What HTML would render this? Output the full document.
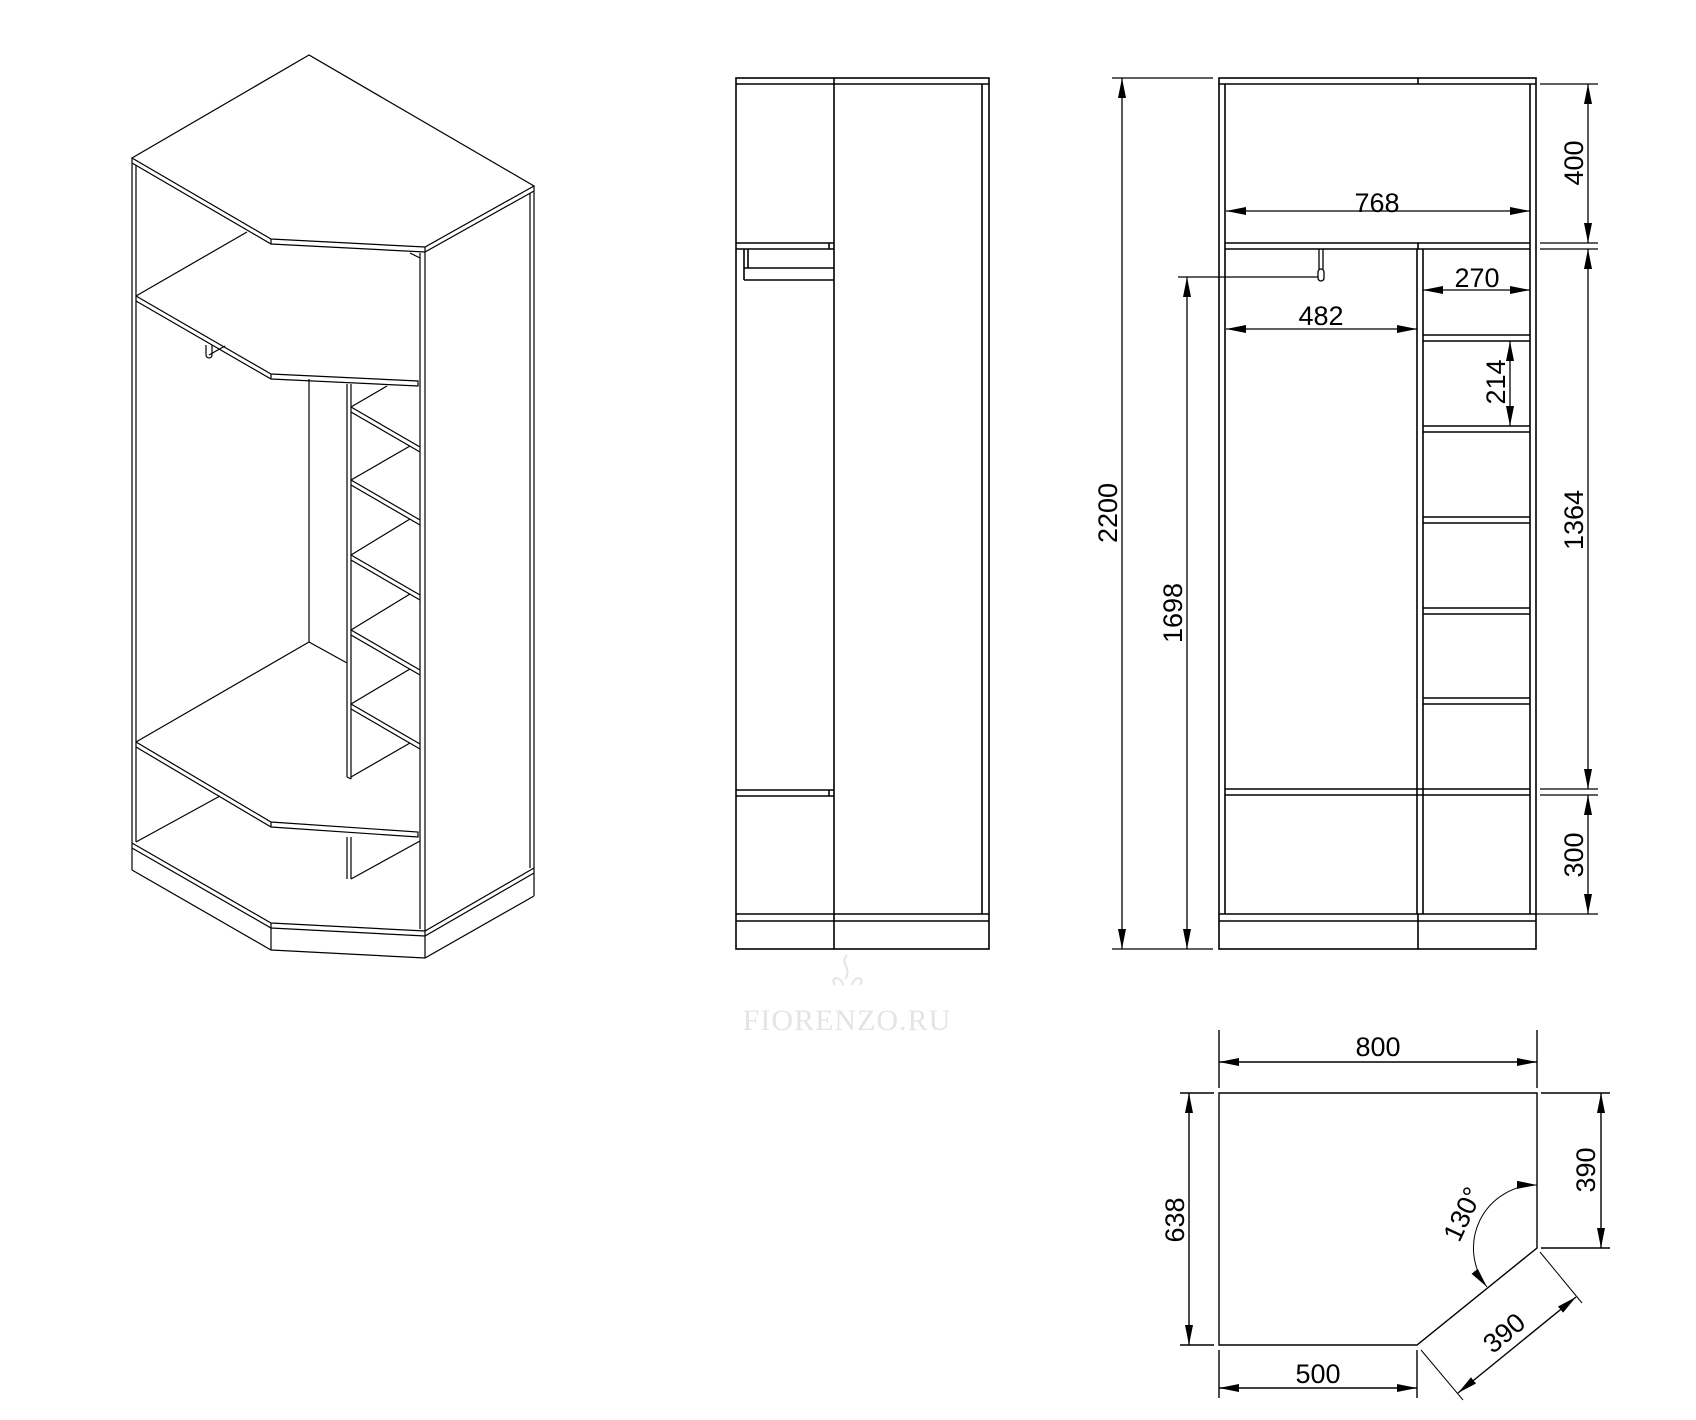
<!DOCTYPE html>
<html><head><meta charset="utf-8"><style>
html,body{margin:0;padding:0;background:#fff;}
svg{display:block;}
text{font-family:"Liberation Sans",sans-serif;font-size:27px;fill:#000;}
</style></head><body>
<svg width="1696" height="1420" viewBox="0 0 1696 1420" xmlns="http://www.w3.org/2000/svg">
<defs>
<marker id="a" viewBox="0 0 20 8" refX="20" refY="4" markerWidth="20" markerHeight="8" markerUnits="userSpaceOnUse" orient="auto-start-reverse">
<path d="M0,0 L20,4 L0,8 z" fill="#000"/></marker>
</defs>

<!-- ISOMETRIC -->
<g stroke="#000" stroke-width="1.2" fill="none">
<polygon points="309,55 132,158 271,239 425,247 534,186" fill="#fff"/>
<polyline points="132,158 132,870"/>
<polyline points="136,165 136,842"/>
<polyline points="132,163 271,244 425,252 534,191"/>
<line x1="271" y1="239" x2="271" y2="244"/>
<line x1="425" y1="247" x2="425" y2="958"/>
<line x1="420" y1="253" x2="420" y2="929"/>
<line x1="410" y1="253" x2="420" y2="258"/>
<line x1="534" y1="186" x2="534" y2="896"/>
<line x1="530" y1="193" x2="530" y2="868"/>
<!-- shelf 1 -->
<line x1="136" y1="296" x2="247" y2="232"/>
<polyline points="136,296 271,374 418,381 418,386 271,379 136,301"/>
<line x1="271" y1="374" x2="271" y2="379"/>
<!-- hanger -->
<path d="M206,345 v10 a3,3 0 0 0 6,0 v-10 M209,355 L225,346"/>
<!-- partition -->
<line x1="309" y1="379" x2="309" y2="642"/>
<line x1="347" y1="384" x2="347" y2="777"/>
<line x1="351" y1="384" x2="351" y2="779"/>
<line x1="347" y1="777" x2="351" y2="779"/>
<line x1="351" y1="407" x2="387" y2="386"/>
<g id="sh">
<polyline points="351,407 420,447"/><polyline points="351,412 420,452"/>
</g>
<polyline points="351,480 420,520"/><polyline points="351,485 420,525"/><line x1="351" y1="480" x2="410" y2="446"/>
<polyline points="351,555 420,595"/><polyline points="351,560 420,600"/><line x1="351" y1="555" x2="410" y2="519"/>
<polyline points="351,630 420,670"/><polyline points="351,635 420,675"/><line x1="351" y1="630" x2="410" y2="594"/>
<polyline points="351,704 420,744"/><polyline points="351,709 420,749"/><line x1="351" y1="704" x2="410" y2="669"/>
<line x1="351" y1="777" x2="410" y2="743"/>
<!-- bottom shelf -->
<line x1="136" y1="742" x2="309" y2="642"/>
<line x1="309" y1="642" x2="347" y2="663"/>
<polyline points="136,742 271,822 418,832 418,837 271,827 136,747"/>
<line x1="271" y1="822" x2="271" y2="827"/>
<line x1="347" y1="837" x2="347" y2="879"/>
<line x1="351" y1="837" x2="351" y2="879"/>
<line x1="351" y1="879" x2="420" y2="841"/>
<line x1="136" y1="842" x2="220" y2="796"/>
<!-- plinth -->
<polyline points="132,843 271,923 425,931 534,868"/>
<polyline points="132,848 271,928 425,936 534,873"/>
<polyline points="132,870 271,950 425,958 534,896"/>
<line x1="271" y1="923" x2="271" y2="950"/>
</g>

<!-- SIDE VIEW -->
<g stroke="#000" stroke-width="1.6" fill="none">
<rect x="736" y="78" width="253" height="871"/>
<line x1="736" y1="84" x2="989" y2="84"/>
<line x1="834" y1="78" x2="834" y2="949"/>
<line x1="982" y1="84" x2="982" y2="914"/>
<line x1="736" y1="243" x2="834" y2="243"/><line x1="736" y1="249" x2="834" y2="249"/>
<line x1="829" y1="243" x2="829" y2="249"/>
<line x1="744" y1="249" x2="744" y2="280"/><line x1="748" y1="249" x2="748" y2="268"/>
<line x1="744" y1="268" x2="834" y2="268"/><line x1="744" y1="280" x2="834" y2="280"/>
<line x1="736" y1="790" x2="834" y2="790"/><line x1="736" y1="796" x2="834" y2="796"/>
<line x1="829" y1="790" x2="829" y2="796"/>
<line x1="736" y1="914" x2="989" y2="914"/><line x1="736" y1="921" x2="989" y2="921"/>
</g>
<!-- watermark -->
<text x="847" y="1030" text-anchor="middle" style="font-family:'Liberation Serif',serif;font-size:30px;fill:#e4e4e4;letter-spacing:1px">FIORENZO.RU</text>
<path d="M847,955 c-8,8 6,14 -2,24 M835,985 c-6,-8 6,-10 8,0 M860,985 c6,-8 -6,-10 -8,0" stroke="#e4e4e4" stroke-width="2" fill="none"/>

<!-- FRONT VIEW -->
<g stroke="#000" stroke-width="1.6" fill="none">
<rect x="1219" y="78" width="317" height="871"/>
<line x1="1219" y1="84" x2="1536" y2="84"/>
<line x1="1418" y1="78" x2="1418" y2="84"/>
<line x1="1225" y1="84" x2="1225" y2="914"/>
<line x1="1530" y1="84" x2="1530" y2="914"/>
<line x1="1225" y1="243" x2="1530" y2="243"/><line x1="1225" y1="249" x2="1530" y2="249"/>
<line x1="1418" y1="243" x2="1418" y2="249"/>
<line x1="1417" y1="249" x2="1417" y2="914"/><line x1="1423" y1="249" x2="1423" y2="914"/>
<g>
<line x1="1423" y1="335" x2="1530" y2="335"/><line x1="1423" y1="341" x2="1530" y2="341"/>
<line x1="1423" y1="426" x2="1530" y2="426"/><line x1="1423" y1="432" x2="1530" y2="432"/>
<line x1="1423" y1="517" x2="1530" y2="517"/><line x1="1423" y1="523" x2="1530" y2="523"/>
<line x1="1423" y1="608" x2="1530" y2="608"/><line x1="1423" y1="614" x2="1530" y2="614"/>
<line x1="1423" y1="698" x2="1530" y2="698"/><line x1="1423" y1="704" x2="1530" y2="704"/>
</g>
<line x1="1225" y1="789" x2="1530" y2="789"/><line x1="1225" y1="795" x2="1530" y2="795"/>
<line x1="1219" y1="914" x2="1536" y2="914"/><line x1="1219" y1="921" x2="1536" y2="921"/>
<line x1="1418" y1="914" x2="1418" y2="949"/>
</g>
<path d="M1319,249 v20 M1323,249 v20 M1318,272 a3,3 0 0 1 6,0 v6 a3,3 0 0 1 -6,0 z" stroke="#000" stroke-width="1.3" fill="#fff"/>

<!-- dimensions front -->
<g stroke="#000" stroke-width="1.3" fill="none">
<line x1="1112" y1="78" x2="1213" y2="78"/>
<line x1="1112" y1="949" x2="1213" y2="949"/>
<line x1="1122" y1="78" x2="1122" y2="949" marker-start="url(#a)" marker-end="url(#a)"/>
<line x1="1178" y1="277" x2="1318" y2="277"/>
<line x1="1187" y1="277" x2="1187" y2="949" marker-start="url(#a)" marker-end="url(#a)"/>
<line x1="1226" y1="211" x2="1530" y2="211" marker-start="url(#a)" marker-end="url(#a)"/>
<line x1="1226" y1="329" x2="1417" y2="329" marker-start="url(#a)" marker-end="url(#a)"/>
<line x1="1423" y1="290" x2="1530" y2="290" marker-start="url(#a)" marker-end="url(#a)"/>
<line x1="1510" y1="341" x2="1510" y2="426" marker-start="url(#a)" marker-end="url(#a)"/>
<line x1="1540" y1="84" x2="1598" y2="84"/>
<line x1="1540" y1="243" x2="1598" y2="243"/>
<line x1="1540" y1="249" x2="1598" y2="249"/>
<line x1="1540" y1="789" x2="1598" y2="789"/>
<line x1="1540" y1="795" x2="1598" y2="795"/>
<line x1="1536" y1="914" x2="1598" y2="914"/>
<line x1="1588" y1="84" x2="1588" y2="243" marker-start="url(#a)" marker-end="url(#a)"/>
<line x1="1588" y1="249" x2="1588" y2="789" marker-start="url(#a)" marker-end="url(#a)"/>
<line x1="1588" y1="795" x2="1588" y2="914" marker-start="url(#a)" marker-end="url(#a)"/>
</g>
<text x="1377" y="212" text-anchor="middle">768</text>
<text x="1321" y="325" text-anchor="middle">482</text>
<text x="1477" y="287" text-anchor="middle">270</text>
<text transform="translate(1505,382) rotate(-90)" text-anchor="middle">214</text>
<text transform="translate(1583,163) rotate(-90)" text-anchor="middle">400</text>
<text transform="translate(1583,520) rotate(-90)" text-anchor="middle">1364</text>
<text transform="translate(1583,855) rotate(-90)" text-anchor="middle">300</text>
<text transform="translate(1117,513) rotate(-90)" text-anchor="middle">2200</text>
<text transform="translate(1182,613) rotate(-90)" text-anchor="middle">1698</text>

<!-- PLAN -->
<g stroke="#000" stroke-width="1.4" fill="none">
<polygon points="1219,1093 1537,1093 1537,1248 1417,1345 1219,1345"/>
<line x1="1219" y1="1030" x2="1219" y2="1088"/>
<line x1="1537" y1="1030" x2="1537" y2="1088"/>
<line x1="1219" y1="1062" x2="1537" y2="1062" marker-start="url(#a)" marker-end="url(#a)"/>
<line x1="1180" y1="1093" x2="1214" y2="1093"/>
<line x1="1180" y1="1345" x2="1214" y2="1345"/>
<line x1="1189" y1="1093" x2="1189" y2="1345" marker-start="url(#a)" marker-end="url(#a)"/>
<line x1="1541" y1="1093" x2="1610" y2="1093"/>
<line x1="1541" y1="1248" x2="1610" y2="1248"/>
<line x1="1601" y1="1093" x2="1601" y2="1248" marker-start="url(#a)" marker-end="url(#a)"/>
<line x1="1219" y1="1350" x2="1219" y2="1398"/>
<line x1="1417" y1="1350" x2="1417" y2="1398"/>
<line x1="1219" y1="1388" x2="1417" y2="1388" marker-start="url(#a)" marker-end="url(#a)"/>
<g stroke-width="1">
<line x1="1540" y1="1252" x2="1582" y2="1303"/>
<line x1="1421" y1="1350" x2="1463" y2="1400"/>
<path d="M1537,1185 A63,63 0 0 0 1487,1287" marker-start="url(#a)" marker-end="url(#a)"/>
</g>
<line x1="1458" y1="1393" x2="1576" y2="1297" marker-start="url(#a)" marker-end="url(#a)"/>
</g>
<text x="1378" y="1056" text-anchor="middle">800</text>
<text x="1318" y="1383" text-anchor="middle">500</text>
<text transform="translate(1184,1220) rotate(-90)" text-anchor="middle">638</text>
<text transform="translate(1595,1170) rotate(-90)" text-anchor="middle">390</text>
<text transform="translate(1510,1340) rotate(-40)" text-anchor="middle">390</text>
<text transform="translate(1471,1218) rotate(-65)" text-anchor="middle">130°</text>
</svg>
</body></html>
